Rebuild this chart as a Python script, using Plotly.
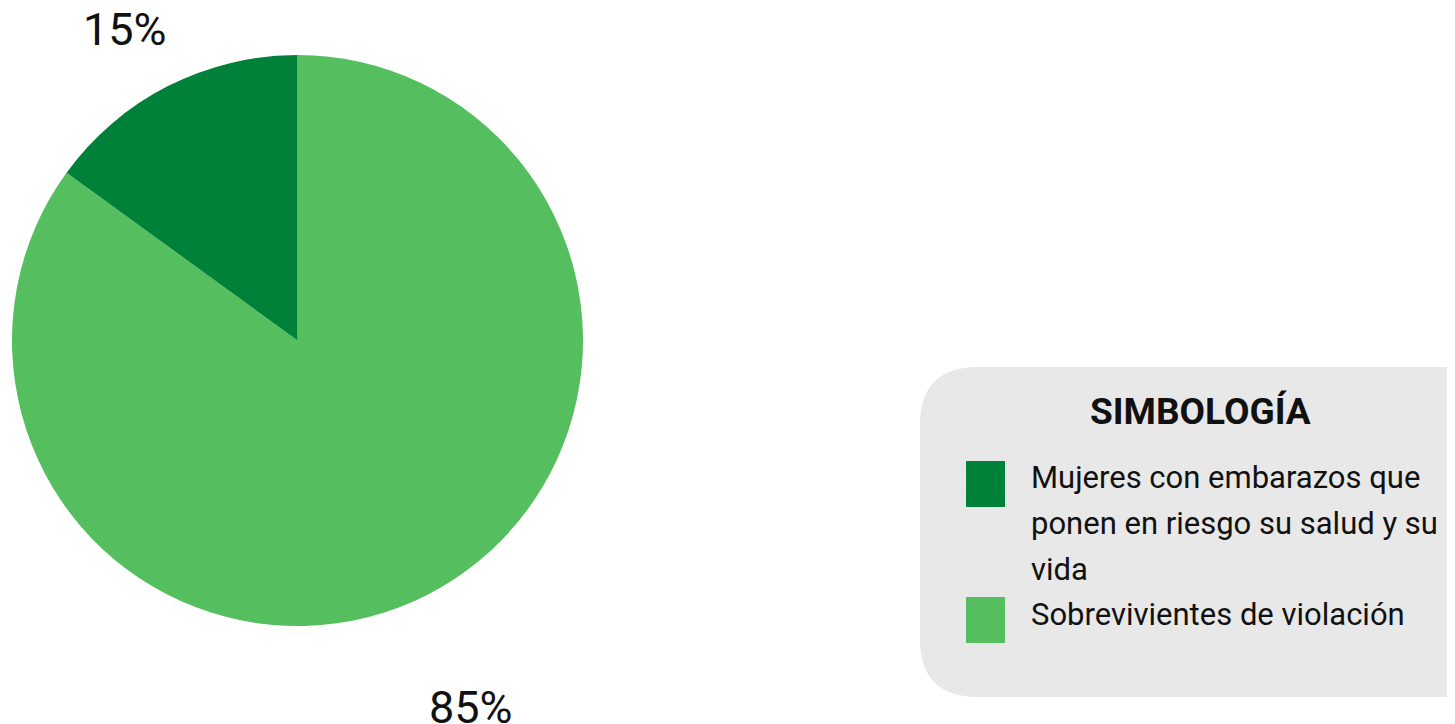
import math
import plotly.graph_objects as go

# ---- data ----
labels = ["Mujeres con embarazos que ponen en riesgo su salud y su vida",
          "Sobrevivientes de violación"]
legend_lines = [["Mujeres con embarazos que", "ponen en riesgo su salud y su", "vida"],
                ["Sobrevivientes de violación"]]
values = [15, 85]
colors = ["#008139", "#55BE5E"]
legend_title = "SIMBOLOGÍA"

W, H = 1455, 724
FONT = "Roboto"
OFF = 8  # page body margin compensation

def px(x):
    return (x - OFF) / W

def py(y):
    return 1 - (y - OFF) / H

# pie geometry (pixels)
cx, cy, r = 297.5, 340.5, 285.5

# slices are drawn clockwise from 12 o'clock in reversed order, so the first
# category ends up going counterclockwise from the top (as in the reference)
fig = go.Figure(go.Pie(
    labels=labels[::-1], values=values[::-1], sort=False, direction="clockwise",
    rotation=0, marker=dict(colors=colors[::-1], line=dict(width=0)),
    textinfo="none", hoverinfo="label+percent", showlegend=False,
    domain=dict(x=[px(cx - r), px(cx + r)], y=[py(cy + r), py(cy - r)]),
))

annotations = []
shapes = []

# percentage labels outside slices, at slice mid-angles (counterclockwise from top)
total = sum(values)
radial = [1.245, 1.42]
dx_lab, dy_lab = -11, 6
start = 0.0
for i, v in enumerate(values):
    frac = v / total
    mid = start + frac / 2
    ang = mid * 2 * math.pi
    lx = cx - math.sin(ang) * r * radial[i] + dx_lab
    ly = cy - math.cos(ang) * r * radial[i] + dy_lab
    annotations.append(dict(
        x=px(lx), y=py(ly), xref="paper", yref="paper", showarrow=False,
        text=f"{round(frac * 100)}%", font=dict(family=FONT, size=45, color="#111111"),
        xanchor="center", yanchor="middle"))
    start += frac

# legend background: rounded rectangle
bx0, by0, bx1, by1, rr = 920, 367, 1500, 697, 58
path = (f"M {px(bx0 + rr)},{py(by0)} L {px(bx1 - rr)},{py(by0)} "
        f"Q {px(bx1)},{py(by0)} {px(bx1)},{py(by0 + rr)} L {px(bx1)},{py(by1 - rr)} "
        f"Q {px(bx1)},{py(by1)} {px(bx1 - rr)},{py(by1)} L {px(bx0 + rr)},{py(by1)} "
        f"Q {px(bx0)},{py(by1)} {px(bx0)},{py(by1 - rr)} L {px(bx0)},{py(by0 + rr)} "
        f"Q {px(bx0)},{py(by0)} {px(bx0 + rr)},{py(by0)} Z")
shapes.append(dict(type="path", path=path, xref="paper", yref="paper",
                   fillcolor="#E8E8E8", line=dict(width=0), layer="below"))

annotations.append(dict(
    x=px(1200), y=py(411), xref="paper", yref="paper", showarrow=False,
    text=f"<b>{legend_title}</b>", font=dict(family=FONT, size=37, color="#111111"),
    xanchor="center", yanchor="middle"))

# legend items
item_top = [461, 597]
line_gap = 45.8
for i, lines in enumerate(legend_lines):
    t = item_top[i]
    shapes.append(dict(type="rect", xref="paper", yref="paper",
                       x0=px(966), x1=px(1005), y0=py(t), y1=py(t + 46),
                       fillcolor=colors[i], line=dict(width=0)))
    for j, ln in enumerate(lines):
        annotations.append(dict(
            x=px(1029), y=py(t + 17 + j * line_gap), xref="paper", yref="paper",
            showarrow=False, text=ln, font=dict(family=FONT, size=31, color="#111111"),
            xanchor="left", yanchor="middle"))

fig.update_layout(
    width=W, height=H, margin=dict(l=0, r=0, t=0, b=0),
    paper_bgcolor="white", plot_bgcolor="white",
    showlegend=False, annotations=annotations, shapes=shapes,
    font=dict(family=FONT),
)

fig.write_html("out.html")
